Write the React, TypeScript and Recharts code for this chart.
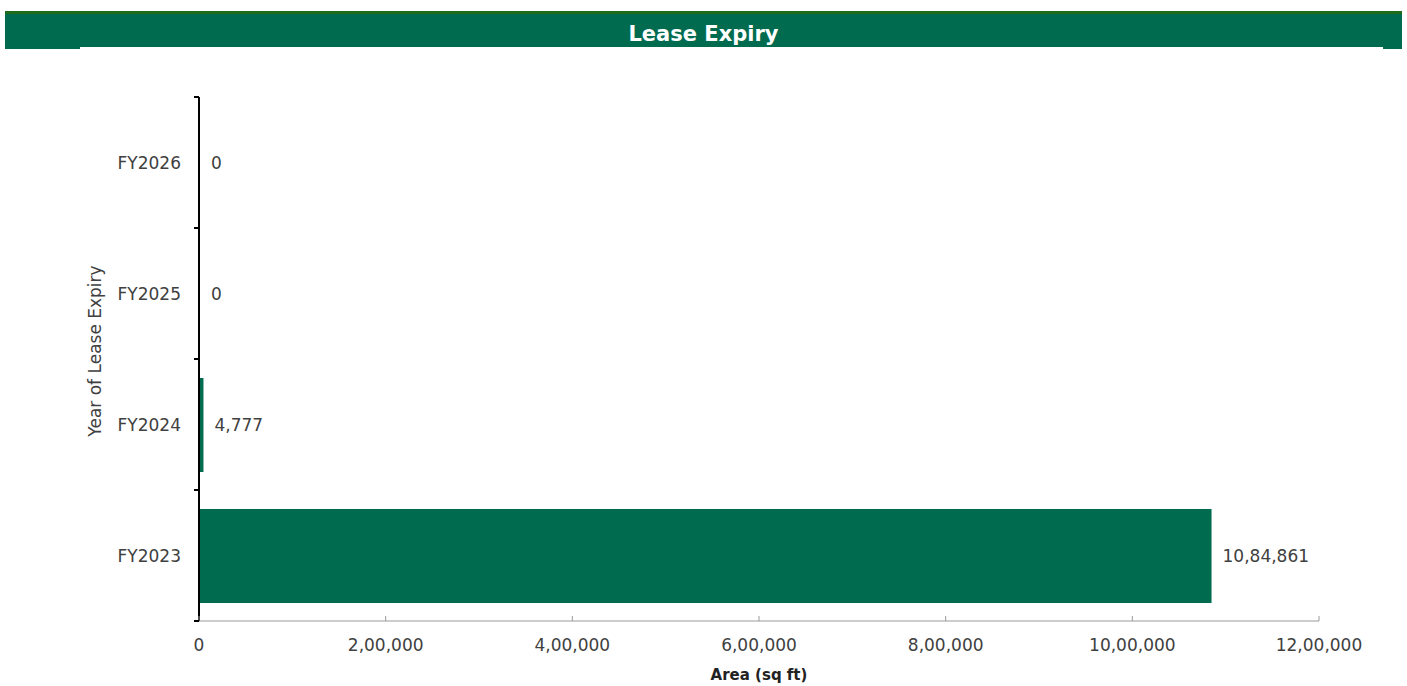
import React from 'react';
import { BarChart, Bar, XAxis, YAxis, LabelList, Label } from 'recharts';

const categories = ['FY2023', 'FY2024', 'FY2025', 'FY2026'];
const areaValues = [1084861, 4777, 0, 0];
const xTicks = [0, 200000, 400000, 600000, 800000, 1000000, 1200000];

const data = categories.map((c, i) => ({ year: c, area: areaValues[i] }));

const GREEN = '#006B4F';
const TEXT = '#404040';
const FONT = '"DejaVu Sans", sans-serif';

const W = 1407;
const H = 686;
const PLOT_TOP = 97;
const PLOT_BOTTOM = 621;
const PLOT_LEFT = 199;
const PLOT_RIGHT = 1319;
const Y_AXIS_W = 110;
const X_AXIS_H = 65;
const BAND = (PLOT_BOTTOM - PLOT_TOP) / categories.length;

function indian(n: number): string {
  const s = Math.round(n).toString();
  if (s.length <= 3) return s;
  const last3 = s.slice(-3);
  let rest = s.slice(0, -3);
  const parts: string[] = [];
  while (rest.length > 2) {
    parts.unshift(rest.slice(-2));
    rest = rest.slice(0, -2);
  }
  if (rest) parts.unshift(rest);
  return parts.join(',') + ',' + last3;
}

const XTick = (props: any) => {
  const { x, payload } = props;
  return (
    <g>
      <line x1={x} x2={x} y1={PLOT_BOTTOM} y2={PLOT_BOTTOM - 5} stroke="#9a9a9a" strokeWidth={1} />
      <text x={x} y={PLOT_BOTTOM + 24} textAnchor="middle" dominantBaseline="central" fill={TEXT} fontSize={17} fontFamily={FONT}>
        {indian(payload.value)}
      </text>
    </g>
  );
};

const YTick = (props: any) => {
  const { y, payload, index } = props;
  const top = y - BAND / 2;
  const bottom = y + BAND / 2;
  return (
    <g>
      <line x1={PLOT_LEFT - 5} x2={PLOT_LEFT} y1={top} y2={top} stroke="#000" strokeWidth={2} />
      {index === 0 && <line x1={PLOT_LEFT - 5} x2={PLOT_LEFT} y1={bottom} y2={bottom} stroke="#000" strokeWidth={2} />}
      <text x={PLOT_LEFT - 18} y={y} textAnchor="end" dominantBaseline="central" fill={TEXT} fontSize={17} fontFamily={FONT}>
        {payload.value}
      </text>
    </g>
  );
};

const YTitle = () => (
  <text
    x={95}
    y={(PLOT_TOP + PLOT_BOTTOM) / 2 - 8}
    transform={`rotate(-90, 95, ${(PLOT_TOP + PLOT_BOTTOM) / 2 - 8})`}
    textAnchor="middle"
    dominantBaseline="central"
    fill={TEXT}
    fontSize={17}
    fontFamily={FONT}
  >
    Year of Lease Expiry
  </text>
);

const XTitle = () => (
  <text x={(PLOT_LEFT + PLOT_RIGHT) / 2} y={675} textAnchor="middle" dominantBaseline="central" fill="#222" fontSize={15} fontWeight="bold" fontFamily={FONT}>
    Area (sq ft)
  </text>
);

export default function App() {
  return (
    <div style={{ position: 'absolute', left: 0, top: 0, width: W, height: H, background: '#fff' }}>
      <div style={{ position: 'absolute', left: 5, top: 11, width: 1397, height: 36, background: GREEN, borderTop: '3px solid #1f6b1c', boxSizing: 'border-box', display: 'flex', alignItems: 'center', justifyContent: 'center' }}>
        <span style={{ color: '#fff', fontFamily: FONT, fontWeight: 'bold', fontSize: 21, position: 'relative', top: 3 }}>Lease Expiry</span>
      </div>
      <div style={{ position: 'absolute', left: 5, top: 47, width: 75, height: 2, background: GREEN }} />
      <div style={{ position: 'absolute', left: 1383, top: 47, width: 19, height: 2, background: GREEN }} />
      <div style={{ position: 'absolute', left: 0, top: 0 }}>
        <BarChart
          width={W}
          height={H}
          data={data}
          layout="vertical"
          margin={{ top: PLOT_TOP, bottom: H - PLOT_BOTTOM - X_AXIS_H, left: PLOT_LEFT - Y_AXIS_W, right: W - PLOT_RIGHT }}
        >
          <XAxis
            type="number"
            domain={[0, 1200000]}
            ticks={xTicks}
            tickLine={false}
            axisLine={{ stroke: '#9a9a9a', strokeWidth: 1 }}
            height={X_AXIS_H}
            tick={<XTick />}
            interval={0}
          >
            <Label content={<XTitle />} />
          </XAxis>
          <YAxis
            type="category"
            dataKey="year"
            reversed
            width={Y_AXIS_W}
            tickLine={false}
            axisLine={{ stroke: '#000', strokeWidth: 2 }}
            tick={<YTick />}
            interval={0}
          >
            <Label content={<YTitle />} />
          </YAxis>
          <Bar dataKey="area" fill={GREEN} barSize={94} minPointSize={1} isAnimationActive={false}>
            <LabelList
              dataKey="area"
              position="right"
              offset={11}
              formatter={(v: any) => indian(Number(v))}
              fill={TEXT}
              fontSize={17}
              fontFamily={FONT}
            />
          </Bar>
        </BarChart>
      </div>
    </div>
  );
}
